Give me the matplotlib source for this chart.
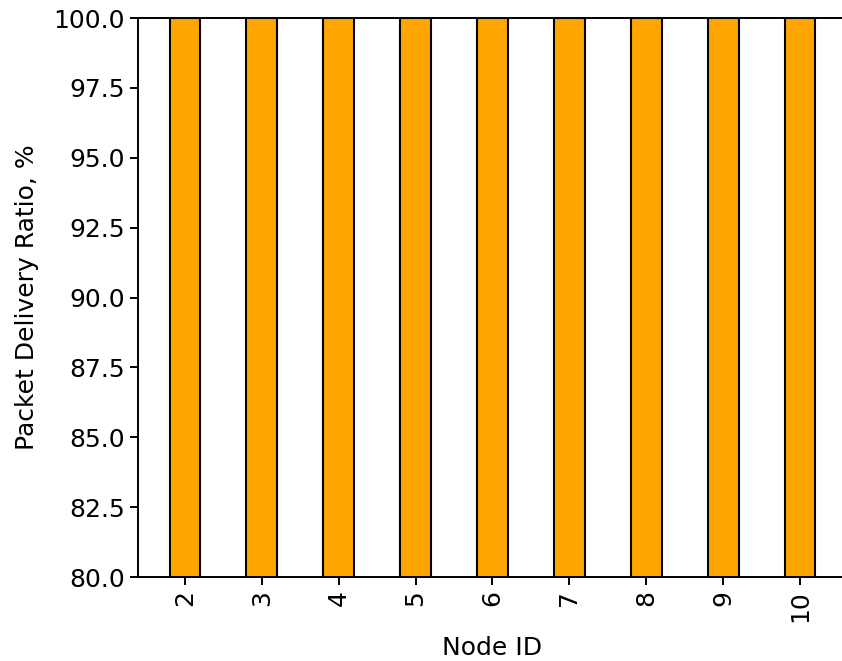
import matplotlib
matplotlib.use('Agg')
import matplotlib.pyplot as plt

node_ids = ['2', '3', '4', '5', '6', '7', '8', '9', '10']
pdr = [100, 100, 100, 100, 100, 100, 100, 100, 100]

plt.rcParams['font.family'] = ['DejaVu Sans']

fig = plt.figure(figsize=(8.42, 6.61), dpi=100)
ax = fig.add_axes([0.1639, 0.127, 0.842, 0.8457])

x = range(len(node_ids))
ax.bar(x, pdr, width=0.4, color='orange', edgecolor='black', linewidth=1.5)

ax.set_xlim(-0.61, len(node_ids) - 1 + 0.61)
ax.set_ylim(80, 100)
ax.set_yticks([80, 82.5, 85, 87.5, 90, 92.5, 95, 97.5, 100])
ax.set_yticklabels([f'{v:.1f}' for v in [80, 82.5, 85, 87.5, 90, 92.5, 95, 97.5, 100]])
ax.set_xticks(list(x))
ax.set_xticklabels(node_ids, rotation=90)

ax.tick_params(labelsize=18, length=6, width=1.4)
for s in ax.spines.values():
    s.set_linewidth(1.4)

ax.set_xlabel('Node ID', fontsize=18, labelpad=10)
ax.set_ylabel('Packet Delivery Ratio, %', fontsize=18, labelpad=10)

fig.savefig('out.png', dpi=100)
